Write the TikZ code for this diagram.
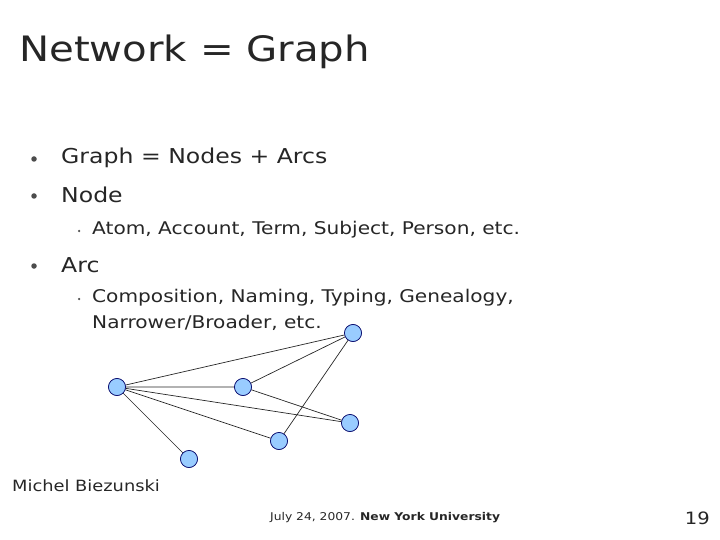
\documentclass[tikz,border=0pt]{standalone}
\usepackage{fontspec}
\setmainfont[FakeStretch=1.15]{DejaVu Sans}
\begin{document}
\begin{tikzpicture}[x=1pt,y=-1pt,
  vtx/.style={circle,draw=blue!40!black,fill={rgb,255:red,153;green,204;blue,255},line width=0.6pt,minimum size=17pt,inner sep=0pt},
  txt/.style={anchor=west,inner sep=0pt,text=black!85},
  dot/.style={circle,fill=black!70,inner sep=0pt,minimum size=5.5pt},
  sdot/.style={circle,fill=black!70,inner sep=0pt,minimum size=2.5pt}]
\useasboundingbox (0,0) rectangle (720,540);
\node[txt,font=\fontsize{35}{36}\selectfont] (title) at (19,52) {Network = Graph};
\node[dot] (b1) at (34,159) {};
\node[txt,font=\fontsize{20.5}{22}\selectfont] (t1) at (61,158) {Graph = Nodes + Arcs};
\node[dot] (b2) at (34,196) {};
\node[txt,font=\fontsize{20.5}{22}\selectfont] (t2) at (61,195) {Node};
\node[sdot] (s1) at (79,231) {};
\node[txt,font=\fontsize{17.5}{18}\selectfont] (t3) at (92,230) {Atom, Account, Term, Subject, Person, etc.};
\node[dot] (b3) at (34,266) {};
\node[txt,font=\fontsize{20.5}{22}\selectfont] (t4) at (61,265) {Arc};
\node[sdot] (s2) at (79,299) {};
\node[txt,font=\fontsize{17.5}{18}\selectfont] (t5) at (92,298) {Composition, Naming, Typing, Genealogy,};
\node[txt,font=\fontsize{17.5}{18}\selectfont] (t6) at (92,323) {Narrower/Broader, etc.};
\node[vtx] (A) at (353,333) {};
\node[vtx] (B) at (117,387) {};
\node[vtx] (C) at (243,387) {};
\node[vtx] (D) at (350,423) {};
\node[vtx] (E) at (279,441) {};
\node[vtx] (F) at (189,459) {};
\draw[black!85,line width=0.7pt] (A)--(B) (A)--(C) (A)--(E) (B)--(C) (C)--(D) (B)--(D) (B)--(E) (B)--(F);
\foreach \n in {A,B,C,D,E,F} \node[vtx] at (\n) {};
\node[txt,font=\fontsize{15.5}{18}\selectfont] (ft) at (12,486) {Michel Biezunski};
\node[txt,font=\fontsize{10.7}{12}\selectfont] (dt) at (270,518) {July 24, 2007. \textbf{New York University}};
\node[anchor=east,inner sep=0pt,font=\fontsize{17}{18}\selectfont,text=black!85] (pg) at (710,518) {19};
\end{tikzpicture}
\end{document}
